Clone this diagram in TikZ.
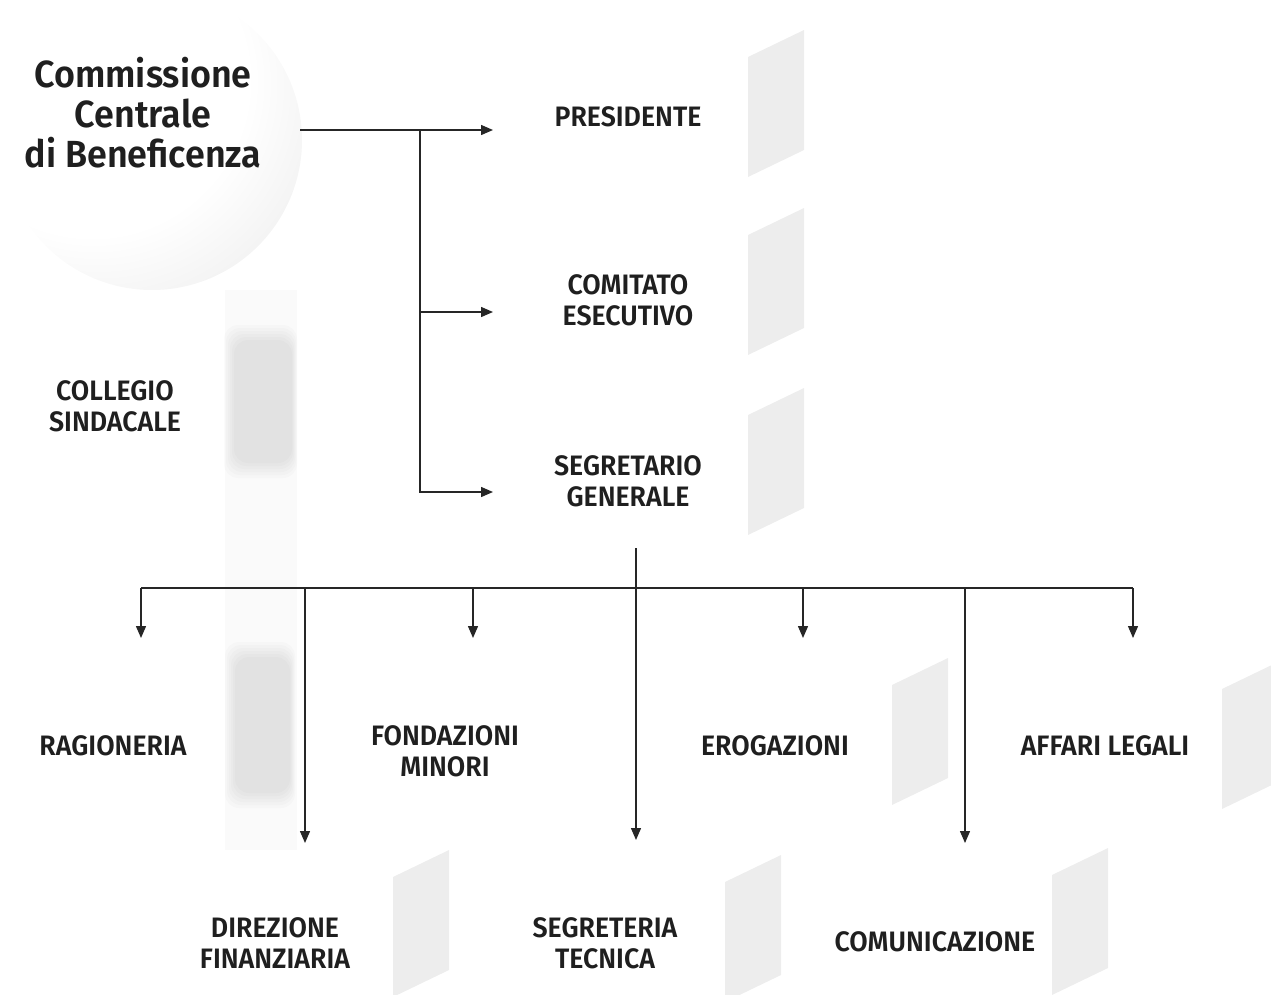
\documentclass[tikz,border=0pt]{standalone}
\usepackage{fontspec}
\setmainfont{Fira Sans}[UprightFont={* SemiBold}, FakeStretch=0.95]
\usetikzlibrary{arrows.meta}

\pgfdeclareradialshading{spherelight}{\pgfpoint{-16bp}{16bp}}{color(0bp)=(white); color(26bp)=(white); color(44bp)=(black!8); color(56bp)=(black!16); color(70bp)=(black!20)}
\colorlet{sheetgray}{black!7}
\newcommand{\sheet}[2]{\fill[sheetgray] (#1,#2+27) -- (#1+56,#2) -- (#1+56,#2+120) -- (#1,#2+147) -- cycle;}
\newcommand{\blurblock}[4]{\foreach \i in {0,...,5} {\fill[black,opacity=0.015,rounded corners=8] (#1+2*\i,#2+3*\i) rectangle (#3-\i,#4-3*\i);}}

\begin{document}
\begin{tikzpicture}[x=0.02cm,y=-0.02cm,
    unit/.style={align=center,text=black!88,font=\fontsize{16}{17.6}\selectfont},
    title/.style={align=center,text=black!88,font=\fontsize{21.5}{22.8}\selectfont},
    link/.style={draw=black!85,line width=0.8pt,-{Triangle[length=0.24cm,width=0.2cm]}},
    bar/.style={draw=black!85,line width=0.8pt}]
  \useasboundingbox (0,0) rectangle (1271,994);
  \begin{scope}
    \clip (0,0) rectangle (1271,994);
    \shade[shading=spherelight] (152,140) circle[radius=150];
  \end{scope}
  % grey sheets
  \fill[black!2] (225,290) rectangle (297,850);
  \blurblock{224}{325}{297}{478}
  \blurblock{225}{642}{295}{808}
  \foreach \x/\y in {748/30,748/208,748/388,892/658,1222/662,393/850,725/855,1052/848} {\sheet{\x}{\y}}
  \fill[white] (700,537) rectangle (820,560);

  % top part
  \node[title] (ccb) at (143,113) {Commissione\\Centrale\\di Beneficenza};
  \node[unit] (pres) at (628,117) {PRESIDENTE};
  \node[unit] (comit) at (628,300) {COMITATO\\ESECUTIVO};
  \node[unit] (segr) at (628,481) {SEGRETARIO\\GENERALE};
  \node[unit] (coll) at (115,406) {COLLEGIO\\SINDACALE};
  \coordinate (ccb-out) at (300,130);
  \coordinate (fork) at (420,130);
  \coordinate (pres-in) at (493,130);
  \coordinate (comit-in) at (493,312);
  \coordinate (segr-in) at (493,492);
  \draw[link] (ccb-out) -- (pres-in);
  \draw[link] (fork) |- (comit-in);
  \draw[link] (fork) |- (segr-in);

  % offices
  \coordinate (segr-out) at (636,548);
  \coordinate (bus) at (636,588);
  \foreach \x/\ty/\lx/\ly/\n/\t in {141/638/113/746/rag/RAGIONERIA,
      305/843/275/943/dir/{DIREZIONE\\FINANZIARIA},
      473/638/445/751/fond/{FONDAZIONI\\MINORI},
      636/840/605/943/tec/{SEGRETERIA\\TECNICA},
      803/638/775/746/erog/EROGAZIONI,
      965/843/935/942/com/COMUNICAZIONE,
      1133/638/1105/746/aff/{AFFARI LEGALI}} {
    \coordinate (\n-in) at (\x,\ty);
    \node[unit] (\n) at (\lx,\ly) {\t};
    \draw[link] (\n-in |- bus) -- (\n-in);
  }
  \draw[bar] (segr-out) -- (bus);
  \draw[bar] (rag-in |- bus) -- (aff-in |- bus);
\end{tikzpicture}
\end{document}
